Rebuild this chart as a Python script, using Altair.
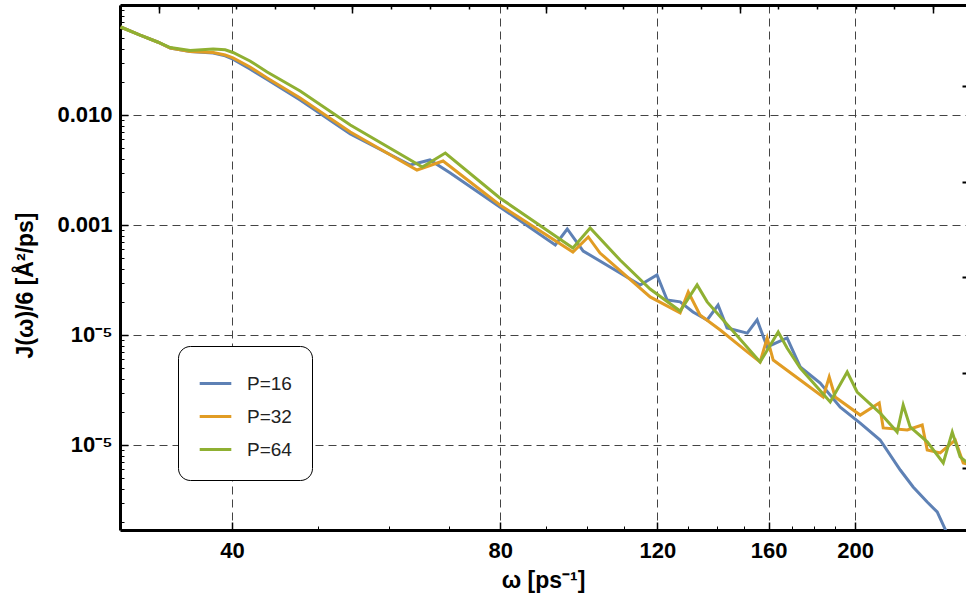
import math
import altair as alt
import pandas as pd

series_names = ["P=16", "P=32", "P=64"]
series_colors = ["#5E81B5", "#E19C24", "#8FB032"]

omega_p16 = [30.0, 31.5, 33.0, 34.1, 35.9, 38.1, 39.3, 40.1, 41.9, 43.8, 47.7, 54.3, 63.4, 66.7, 70.3, 79.9,
             92.2, 95.1, 99.1, 109.0, 114.8, 119.9, 123.1, 127.3, 131.6, 136.5, 140.4, 143.7, 151.4, 155.3,
             159.4, 167.8, 173.6, 182.8, 192.5, 202.7, 213.4, 224.8, 232.4, 241.0, 247.3, 255.7]
J_p16 = [0.0631, 0.0534, 0.0461, 0.0406, 0.0378, 0.0366, 0.0345, 0.0322, 0.0262, 0.0210, 0.0137, 0.00672,
         0.00351, 0.00390, 0.00297, 0.00146, 0.000658, 0.000920, 0.000580, 0.000366, 0.000285, 0.000351,
         0.000208, 0.000200, 0.000162, 0.000137, 0.000187, 0.000116, 0.000104, 0.000137, 0.0000778, 0.0000939,
         0.0000512, 0.0000366, 0.0000221, 0.0000158, 0.0000111, 0.00000592, 0.00000415, 0.00000303,
         0.00000246, 0.00000137]

omega_p32 = [30.0, 31.5, 33.0, 34.1, 35.9, 38.1, 39.3, 40.1, 41.9, 43.8, 47.7, 54.3, 64.5, 69.0, 79.9, 96.5,
             100.4, 103.5, 117.8, 127.3, 130.0, 134.0, 141.2, 151.4, 156.5, 159.4, 161.9, 173.6, 184.2, 187.1,
             190.0, 202.7, 212.9, 215.1, 228.9, 237.9, 241.0, 249.2, 259.1, 264.5, 269.3]
J_p32 = [0.0631, 0.0534, 0.0461, 0.0406, 0.0378, 0.0370, 0.0351, 0.0330, 0.0273, 0.0217, 0.0143, 0.00701,
         0.00316, 0.00382, 0.00152, 0.000568, 0.000778, 0.000556, 0.000222, 0.000159, 0.000246, 0.000152,
         0.000111, 0.0000701, 0.0000568, 0.0000939, 0.0000592, 0.0000390, 0.0000273, 0.0000415, 0.0000273,
         0.0000187, 0.0000241, 0.0000143, 0.0000137, 0.0000152, 0.00000901, 0.00000846, 0.0000111,
         0.00000686, 0.00000658]

omega_p64 = [30.0, 31.5, 33.0, 34.1, 35.9, 38.1, 39.3, 40.1, 41.9, 43.8, 47.7, 54.3, 65.4, 69.4, 79.9, 96.5,
             100.9, 109.0, 117.8, 127.3, 133.0, 136.5, 144.9, 156.5, 164.0, 167.8, 173.6, 187.6, 196.0, 201.1,
             213.4, 223.0, 226.5, 230.6, 241.0, 251.2, 257.1, 262.4, 269.3]
J_p64 = [0.0631, 0.0534, 0.0461, 0.0410, 0.0385, 0.0398, 0.0392, 0.0370, 0.0310, 0.0246, 0.0165, 0.00811,
         0.00337, 0.00451, 0.00176, 0.000618, 0.000939, 0.000480, 0.000262, 0.000165, 0.000285, 0.000200,
         0.000116, 0.0000568, 0.0001065, 0.0000762, 0.0000501, 0.0000246, 0.0000461, 0.0000303, 0.0000195,
         0.0000131, 0.0000231, 0.0000146, 0.0000107, 0.00000686, 0.0000131, 0.00000778, 0.00000658]

x_tick_values = [40, 80, 120, 160, 200]
x_minor_values = [50, 60, 70, 90, 100, 110, 130, 140, 150, 170, 180, 190]
y_tick_values = [0.01, 0.001, 0.0001, 0.00001]
y_tick_labels = ["0.010", "0.001", "10⁻⁵", "10⁻⁵"]
y_minor_values = [d * 10.0 ** k for k in range(-6, -1) for d in range(2, 10)]
top_minor_values = [29.96, 33.12, 36.60, 40.45, 44.70, 49.40, 54.60, 60.34, 66.69, 73.70, 81.45, 90.02, 99.48,
                    109.95, 121.51, 134.29, 148.41, 164.02, 181.27, 200.34, 221.41, 244.69]
top_major_values = [33.12, 54.60, 90.02, 148.41, 244.69]
right_tick_values = [0.018316, 0.0024788, 0.00033546, 0.0000454, 0.0000061442]

x_domain = [29.95, 266.4]
y_domain = [1.687e-6, 0.1]

rows = []
for name, om, jj in [("P=16", omega_p16, J_p16), ("P=32", omega_p32, J_p32), ("P=64", omega_p64, J_p64)]:
    for o, j in zip(om, jj):
        rows.append({"omega": o, "J": j, "series": name})
df = pd.DataFrame(rows)

FONT = "Liberation Sans"
x_scale = alt.Scale(type="log", domain=x_domain, nice=False)
y_scale = alt.Scale(type="log", domain=y_domain, nice=False)

label_expr = " : ".join(
    f"abs(log(datum.value)/LN10 - ({math.log10(v):.4f})) < 0.1 ? '{lab}'" for v, lab in zip(y_tick_values, y_tick_labels)
) + " : ''"

lines = alt.Chart(df).mark_line(strokeWidth=3, clip=True).encode(
    x=alt.X("omega:Q", scale=x_scale, axis=alt.Axis(
        orient="bottom", values=x_tick_values, format="d", title="ω [ps⁻¹]",
        grid=True, gridDash=[8, 5], gridColor="#444", gridWidth=1,
        domain=True, domainColor="black", domainWidth=3,
        ticks=True, tickSize={"expr": "-8"}, tickColor="black", tickWidth=1.5,
        labelFont=FONT, labelFontSize=22, labelFontWeight="bold", labelColor="black", labelPadding=18,
        titleFont=FONT, titleFontSize=23, titleFontWeight="bold", titleColor="black", titlePadding=8)),
    y=alt.Y("J:Q", scale=y_scale, axis=alt.Axis(
        orient="left", values=y_tick_values, labelExpr=label_expr, title="J(ω)/6 [Å²/ps]",
        grid=True, gridDash=[8, 5], gridColor="#444", gridWidth=1,
        domain=True, domainColor="black", domainWidth=3,
        ticks=True, tickSize={"expr": "-8"}, tickColor="black", tickWidth=1.5,
        labelFont=FONT, labelFontSize=22, labelFontWeight="bold", labelColor="black", labelPadding=16,
        titleFont=FONT, titleFontSize=23, titleFontWeight="bold", titleColor="black", titlePadding=19,
        titleY=280)),
    color=alt.Color("series:N", scale=alt.Scale(domain=series_names, range=series_colors), legend=alt.Legend(
        orient="none", legendX=58, legendY=341, title=None, strokeColor="black", cornerRadius=12,
        fillColor="white", padding=20, symbolType="stroke", symbolStrokeWidth=3, symbolSize=1000,
        labelFont=FONT, labelFontSize=19, labelOffset=14, rowPadding=5, labelColor="#222")),
)

minor = alt.Chart(df).mark_point(opacity=0).encode(
    x=alt.X("omega:Q", scale=x_scale, axis=alt.Axis(
        orient="bottom", values=x_minor_values, labels=False, grid=False, domain=False,
        tickSize={"expr": "-4"}, tickColor="black", tickWidth=1, title=None)),
    y=alt.Y("J:Q", scale=y_scale, axis=alt.Axis(
        orient="left", values=y_minor_values, labels=False, grid=False, domain=False,
        tickSize={"expr": "-4"}, tickColor="black", tickWidth=1, title=None)),
)

top_minor = alt.Chart(df).mark_point(opacity=0).encode(
    x=alt.X("omega:Q", scale=x_scale, axis=alt.Axis(
        orient="top", values=top_minor_values, labels=False, grid=False,
        domain=True, domainColor="black", domainWidth=3,
        tickSize={"expr": "-4"}, tickColor="black", tickWidth=1.5, title=None)),
    y=alt.Y("J:Q", scale=y_scale, axis=alt.Axis(
        orient="right", values=right_tick_values, labels=False, grid=False, domain=False,
        tickSize={"expr": "-4"}, tickColor="black", tickWidth=2, title=None)),
)

top_major = alt.Chart(df).mark_point(opacity=0).encode(
    x=alt.X("omega:Q", scale=x_scale, axis=alt.Axis(
        orient="top", values=top_major_values, labels=False, grid=False, domain=False,
        tickSize={"expr": "-8"}, tickColor="black", tickWidth=1.5, title=None)),
    y=alt.Y("J:Q", scale=y_scale, axis=None),
)

chart = alt.layer(lines, minor, top_minor, top_major).resolve_axis(
    x="independent", y="independent"
).properties(
    width=846, height=525,
    autosize=alt.AutoSizeParams(type="none"),
    padding={"left": 120, "top": 5, "right": 0, "bottom": 78},
    background="white",
).configure_view(stroke=None)

chart.save("out.html", embed_options={"renderer": "svg", "actions": False})
